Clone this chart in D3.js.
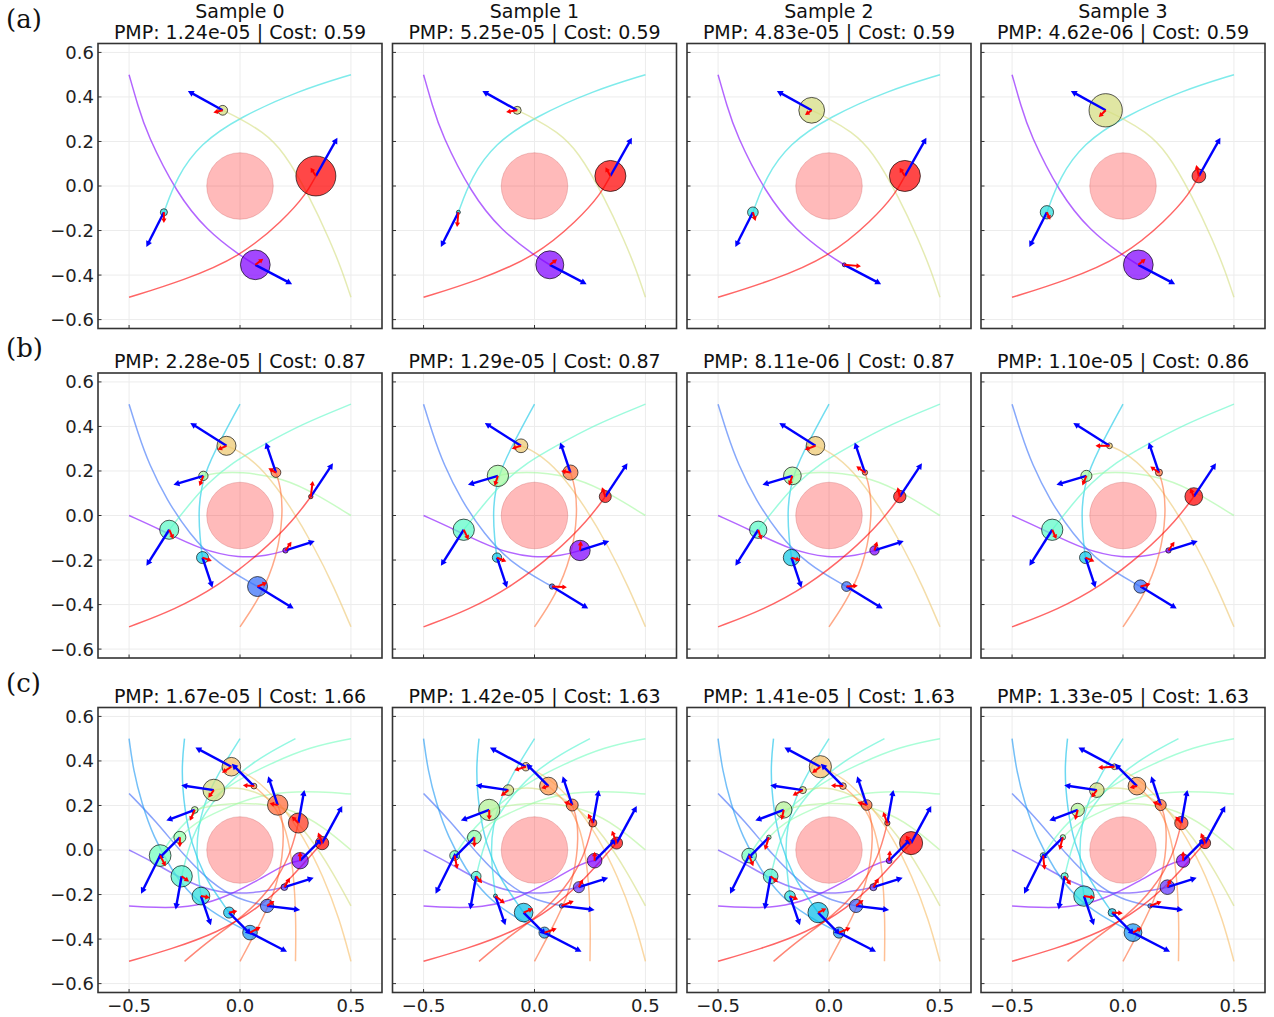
<!DOCTYPE html>
<html>
<head>
<meta charset="utf-8">
<title>PMP samples</title>
<script src="https://cdn.jsdelivr.net/npm/d3@7"></script>
<style>
  body { margin: 0; background: #fff; }
  svg { display: block; font-family: "DejaVu Sans", sans-serif; }
</style>
</head>
<body>
<svg id="chart" width="1274" height="1017"></svg>
<script>
// ---- data (data units) ----
var rowLabels = ["(a)", "(b)", "(c)"];
var sampleNames = ["Sample 0", "Sample 1", "Sample 2", "Sample 3"];
var pmpA = ["1.24e-05", "5.25e-05", "4.83e-05", "4.62e-06"];
var pmpB = ["2.28e-05", "1.29e-05", "8.11e-06", "1.10e-05"];
var pmpC = ["1.67e-05", "1.42e-05", "1.41e-05", "1.33e-05"];
var costA = ["0.59", "0.59", "0.59", "0.59"];
var costB = ["0.87", "0.87", "0.87", "0.86"];
var costC = ["1.66", "1.63", "1.63", "1.63"];
var xTicks = [-0.5, 0, 0.5];
var yTicks = [-0.6, -0.4, -0.2, 0, 0.2, 0.4, 0.6];
var obstacle = {x: 0, y: 0, r: 0.15};

// trajectories: one per agent, the agent sits on the last point
var pathsA = [
  [[-0.5,0.5],[-0.46,0.36],[-0.42,0.235],[-0.285,-0.034],[-0.15,-0.2],[0,-0.312],[0.069,-0.354]],
  [[0.5,0.5],[0.27,0.43],[0,0.31],[-0.18,0.19],[-0.285,0.04],[-0.343,-0.118]],
  [[0.5,-0.5],[0.46,-0.38],[0.405,-0.244],[0.315,-0.05],[0.195,0.16],[0.1,0.245],[0,0.303],[-0.078,0.34]],
  [[-0.5,-0.5],[-0.255,-0.424],[0,-0.319],[0.195,-0.154],[0.3,-0.034],[0.342,0.045]]
];
var pathsB = [
  [[-0.5,0],[-0.357,-0.064],[-0.177,-0.154],[0,-0.192],[0.123,-0.181],[0.205,-0.157]],
  [[-0.5,0.5],[-0.46,0.37],[-0.41,0.23],[-0.33,0.07],[-0.23,-0.08],[-0.1,-0.22],[0.079,-0.319]],
  [[0,0.5],[-0.087,0.34],[-0.162,0.19],[-0.189,0.04],[-0.18,-0.11],[-0.169,-0.189]],
  [[0.5,0.5],[0.273,0.408],[0.093,0.31],[-0.03,0.24],[-0.147,0.145],[-0.237,0.04],[-0.319,-0.064]],
  [[0.5,0],[0.348,0.093],[0.198,0.168],[0,0.198],[-0.117,0.19],[-0.165,0.178]],
  [[0.5,-0.5],[0.423,-0.319],[0.333,-0.139],[0.228,0.04],[0.108,0.205],[0.003,0.288],[-0.061,0.313]],
  [[0,-0.5],[0.093,-0.364],[0.168,-0.184],[0.195,0.01],[0.183,0.13],[0.162,0.193]],
  [[-0.5,-0.5],[-0.297,-0.424],[-0.102,-0.319],[0.093,-0.169],[0.243,-0.019],[0.319,0.085]]
];
var pathsC = [
  [[-0.5,-0.251],[-0.384,-0.259],[-0.235,-0.259],[-0.086,-0.222],[0.063,-0.147],[0.211,-0.058],[0.271,-0.048]],
  [[-0.5,0],[-0.384,-0.058],[-0.235,-0.147],[-0.086,-0.195],[0.063,-0.195],[0.2,-0.167]],
  [[-0.5,0.254],[-0.384,0.135],[-0.25,-0.028],[-0.131,-0.147],[-0.012,-0.222],[0.122,-0.251]],
  [[-0.5,0.5],[-0.481,0.359],[-0.443,0.21],[-0.391,0.061],[-0.31,-0.088],[-0.22,-0.207],[-0.101,-0.296],[0.045,-0.371]],
  [[-0.25,0.5],[-0.265,0.359],[-0.25,0.18],[-0.22,0.031],[-0.161,-0.118],[-0.101,-0.207],[-0.049,-0.281]],
  [[0,0.5],[-0.071,0.388],[-0.146,0.254],[-0.19,0.106],[-0.198,-0.028],[-0.176,-0.207]],
  [[0.25,0.5],[0.122,0.433],[-0.012,0.344],[-0.131,0.21],[-0.22,0.061],[-0.263,-0.118]],
  [[0.5,0.5],[0.315,0.463],[0.137,0.388],[-0.042,0.299],[-0.19,0.18],[-0.295,0.076],[-0.36,-0.025]],
  [[0.5,0.251],[0.36,0.262],[0.211,0.262],[0.063,0.24],[-0.086,0.18],[-0.205,0.121],[-0.271,0.057]],
  [[0.5,0],[0.375,0.106],[0.241,0.18],[0.092,0.21],[-0.042,0.21],[-0.146,0.195],[-0.204,0.18]],
  [[0.5,-0.251],[0.42,-0.103],[0.315,0.061],[0.196,0.195],[0.063,0.269],[-0.042,0.284],[-0.118,0.269]],
  [[0.5,-0.5],[0.449,-0.311],[0.375,-0.118],[0.286,0.061],[0.182,0.21],[0.063,0.329],[-0.039,0.374]],
  [[0.25,-0.5],[0.253,-0.311],[0.241,-0.088],[0.211,0.091],[0.152,0.21],[0.063,0.287]],
  [[0,-0.5],[0.077,-0.356],[0.152,-0.207],[0.196,-0.028],[0.196,0.135],[0.17,0.202]],
  [[-0.25,-0.5],[-0.131,-0.4],[0.018,-0.296],[0.137,-0.177],[0.226,-0.028],[0.263,0.121]],
  [[-0.5,-0.5],[-0.31,-0.445],[-0.101,-0.371],[0.077,-0.266],[0.226,-0.132],[0.315,-0.028],[0.37,0.031]]
];

// blue arrows (same in every sample of a row)
var blueA = [[0.166,-0.087],[-0.079,-0.156],[-0.157,0.087],[0.097,0.172]];
var blueB = [[0.132,0.042],[0.163,-0.099],[0.045,-0.135],[-0.103,-0.162],[-0.135,-0.04],[-0.163,0.103],[-0.046,0.135],[0.1,0.15]];
var blueC = [[0.1,0.1],[0.132,0.042],[0.149,-0.018],[0.167,-0.086],[0.1,-0.1],[0.045,-0.131],[-0.027,-0.149],[-0.086,-0.171],
             [-0.1,-0.1],[-0.128,-0.048],[-0.147,0.022],[-0.162,0.086],[-0.1,0.1],[-0.043,0.129],[0.027,0.149],[0.091,0.167]];

// agent radii per sample
var radiiA = [
  [0.067,0.016,0.022,0.09],
  [0.063,0.009,0.018,0.07],
  [0.009,0.024,0.058,0.07],
  [0.067,0.03,0.075,0.031]
];
var radiiB = [
  [0.012,0.045,0.027,0.043,0.021,0.043,0.022,0.010],
  [0.046,0.012,0.021,0.048,0.048,0.031,0.034,0.027],
  [0.021,0.022,0.037,0.039,0.04,0.042,0.012,0.028],
  [0.012,0.03,0.027,0.048,0.025,0.013,0.016,0.04]
];
var radiiC = [
  [0.037,0.015,0.03,0.033,0.025,0.04,0.048,0.049,0.027,0.015,0.049,0.042,0.013,0.046,0.045,0.03],
  [0.033,0.025,0.01,0.025,0.042,0.009,0.022,0.022,0.031,0.048,0.024,0.019,0.04,0.027,0.018,0.027],
  [0.013,0.016,0.03,0.025,0.046,0.024,0.033,0.033,0.01,0.037,0.016,0.05,0.015,0.024,0.012,0.052],
  [0.03,0.033,0.01,0.04,0.018,0.046,0.016,0.013,0.012,0.03,0.033,0.013,0.04,0.025,0.03,0.025]
];

// red arrows per sample
var redA = [
  [[0.036,0.027],[0,-0.048],[-0.042,-0.01],[-0.024,0.037]],
  [[0.033,0.025],[-0.006,-0.066],[-0.05,-0.008],[-0.022,0.039]],
  [[0.075,-0.006],[0.012,-0.039],[-0.03,-0.021],[-0.024,0.037]],
  [[0.033,0.027],[0.015,-0.034],[-0.031,-0.03],[-0.012,0.049]]
];
var redB = [
  [[0.027,0.039],[0.043,0.018],[0.042,-0.015],[0.019,-0.042],[-0.018,-0.045],[-0.04,-0.018],[-0.034,0.019],[0.009,0.07]],
  [[0.004,0.042],[0.067,-0.003],[0.042,-0.018],[0.022,-0.045],[-0.015,-0.045],[-0.042,-0.013],[-0.042,0.007],[-0.015,0.042]],
  [[0.012,0.04],[0.051,0.004],[0.04,-0.013],[0.015,-0.045],[-0.015,-0.043],[-0.048,-0.018],[-0.039,0.028],[-0.01,0.042]],
  [[0.027,0.039],[0.045,0.012],[0.04,-0.018],[0.019,-0.042],[-0.018,-0.043],[-0.063,0],[-0.039,0.027],[-0.016,0.037]]
];
var redC = [
  [[0,0.04],[0.025,0.042],[0.033,0.022],[0.048,0.025],[0.037,0.007],[0.04,-0.007],[0.033,-0.024],[0.025,-0.048],
   [0,-0.045],[-0.022,-0.049],[-0.025,-0.034],[-0.042,-0.027],[-0.05,0.004],[-0.037,0.007],[-0.03,0.03],[-0.018,0.048]],
  [[0,0.04],[0.018,0.036],[0.055,0.022],[0.055,0.018],[0.042,0.018],[0.042,-0.033],[0.027,-0.031],[0.012,-0.06],
   [0,-0.045],[0,-0.045],[-0.034,-0.027],[-0.052,-0.016],[-0.033,-0.01],[-0.037,0.015],[-0.022,0.042],[-0.021,0.056]],
  [[0.004,0.046],[0.024,0.04],[0.033,0.027],[0.052,0.022],[0.037,0.018],[0.037,-0.015],[0.033,-0.027],[0.019,-0.048],
   [-0.018,-0.057],[-0.01,-0.045],[-0.046,-0.024],[-0.037,-0.028],[-0.054,0.003],[-0.042,0.013],[-0.019,0.05],[-0.024,0.034]],
  [[0,0.042],[0.015,0.036],[0.052,0.02],[0.04,0.022],[0.048,-0.003],[0.049,-0.007],[0.028,-0.039],[0.007,-0.064],
   [-0.015,-0.057],[-0.012,-0.045],[-0.025,-0.033],[-0.073,-0.004],[-0.033,-0.007],[-0.036,0.015],[-0.027,0.03],[-0.019,0.045]]
];

// ---- layout ----
var colLeft = [98, 392.5, 687, 981];
var rowTop = [43.5, 373, 707.5];
var W = 284, H = 285;

var rows = [
  {paths: pathsA, blue: blueA, radii: radiiA, red: redA, pmp: pmpA, cost: costA},
  {paths: pathsB, blue: blueB, radii: radiiB, red: redB, pmp: pmpB, cost: costB},
  {paths: pathsC, blue: blueC, radii: radiiC, red: redC, pmp: pmpC, cost: costC}
];

var x = d3.scaleLinear().domain([-0.64, 0.64]).range([0, W]);
var y = d3.scaleLinear().domain([-0.64, 0.64]).range([H, 0]);
var fmt = function(v) { return (v < 0 ? "\u2212" : "") + Math.abs(v).toFixed(1); };

// matplotlib "rainbow" colormap
function rainbow(t) {
  var r = Math.min(1, Math.abs(2 * t - 0.5));
  var g = Math.sin(Math.PI * t);
  var b = Math.cos(Math.PI * t / 2);
  return d3.rgb(r * 255, g * 255, Math.max(0, b) * 255).formatHex();
}

var line = d3.line()
    .x(function(d) { return x(d[0]); })
    .y(function(d) { return y(d[1]); })
    .curve(d3.curveBasis);

function arrow(g, p, v, color, lw, hl, hw) {
  var x0 = x(p[0]), y0 = y(p[1]);
  var x1 = x(p[0] + v[0]), y1 = y(p[1] + v[1]);
  var dx = x1 - x0, dy = y1 - y0, len = Math.sqrt(dx * dx + dy * dy);
  if (len < 0.5) return;
  var ux = dx / len, uy = dy / len;
  var bx = x1 - ux * hl, by = y1 - uy * hl;
  g.append("line")
      .attr("x1", x0).attr("y1", y0)
      .attr("x2", bx + ux * 1).attr("y2", by + uy * 1)
      .attr("stroke", color).attr("stroke-width", lw);
  g.append("path")
      .attr("d", "M" + x1 + "," + y1 +
                 "L" + (bx - uy * hw) + "," + (by + ux * hw) +
                 "L" + (bx + uy * hw) + "," + (by - ux * hw) + "Z")
      .attr("fill", color);
}

var svg = d3.select("#chart");

rows.forEach(function(row, ri) {
  var n = row.paths.length;
  var colors = row.paths.map(function(d, i) { return rainbow(i / (n - 1)); });

  svg.append("text")
      .attr("x", 6).attr("y", rowTop[ri] - 16)
      .attr("font-family", "DejaVu Serif, serif")
      .attr("font-size", 26)
      .attr("fill", "#111")
      .text(rowLabels[ri]);

  for (var ci = 0; ci < 4; ci++) {
    var g = svg.append("g").attr("transform", "translate(" + colLeft[ci] + "," + rowTop[ri] + ")");
    var clipId = "clip" + ri + ci;
    g.append("clipPath").attr("id", clipId)
      .append("rect").attr("width", W).attr("height", H);
    var inner = g.append("g").attr("clip-path", "url(#" + clipId + ")");

    // grid
    inner.selectAll(".gx").data(xTicks).enter().append("line")
        .attr("x1", function(d) { return x(d); }).attr("x2", function(d) { return x(d); })
        .attr("y1", 0).attr("y2", H)
        .attr("stroke", "#ececec").attr("stroke-width", 1);
    inner.selectAll(".gy").data(yTicks).enter().append("line")
        .attr("y1", function(d) { return y(d); }).attr("y2", function(d) { return y(d); })
        .attr("x1", 0).attr("x2", W)
        .attr("stroke", "#ececec").attr("stroke-width", 1);

    // obstacle
    inner.append("circle")
        .attr("cx", x(obstacle.x)).attr("cy", y(obstacle.y))
        .attr("r", x(obstacle.r) - x(0))
        .attr("fill", "rgba(255,0,0,0.27)")
        .attr("stroke", "rgba(190,60,60,0.25)").attr("stroke-width", 1);

    // trajectories
    inner.selectAll(".traj").data(row.paths).enter().append("path")
        .attr("d", line)
        .attr("fill", "none")
        .attr("stroke", function(d, i) { return colors[i]; })
        .attr("stroke-opacity", 0.6)
        .attr("stroke-width", 1.5);

    // agents
    var radii = row.radii[ci];
    inner.selectAll(".agent").data(row.paths).enter().append("circle")
        .attr("cx", function(d) { return x(d[d.length - 1][0]); })
        .attr("cy", function(d) { return y(d[d.length - 1][1]); })
        .attr("r", function(d, i) { return x(radii[i]) - x(0); })
        .attr("fill", function(d, i) { return colors[i]; })
        .attr("fill-opacity", 0.72)
        .attr("stroke", "rgba(0,0,0,0.65)").attr("stroke-width", 1);

    // arrows
    var reds = row.red[ci];
    row.paths.forEach(function(d, i) {
      var p = d[d.length - 1];
      arrow(inner, p, row.blue[i], "#0000ff", 2.4, 6, 3.2);
    });
    row.paths.forEach(function(d, i) {
      var p = d[d.length - 1];
      arrow(inner, p, reds[i], "#ff0000", 2, 4.5, 2.6);
    });

    // ticks (inward)
    g.selectAll(".tx").data(xTicks).enter().append("line")
        .attr("x1", function(d) { return x(d); }).attr("x2", function(d) { return x(d); })
        .attr("y1", H).attr("y2", H - 3.5)
        .attr("stroke", "#333").attr("stroke-width", 1);
    g.selectAll(".ty").data(yTicks).enter().append("line")
        .attr("y1", function(d) { return y(d); }).attr("y2", function(d) { return y(d); })
        .attr("x1", 0).attr("x2", 3.5)
        .attr("stroke", "#333").attr("stroke-width", 1);

    // frame
    g.append("rect").attr("width", W).attr("height", H)
        .attr("fill", "none").attr("stroke", "#333").attr("stroke-width", 1.6);

    if (ci === 0) {
      g.selectAll(".yl").data(yTicks).enter().append("text")
          .attr("x", -4).attr("y", function(d) { return y(d); })
          .attr("dy", "0.36em")
          .attr("text-anchor", "end")
          .attr("font-size", 18).attr("fill", "#222")
          .text(fmt);
    }
    if (ri === 2) {
      g.selectAll(".xl").data(xTicks).enter().append("text")
          .attr("x", function(d) { return x(d); }).attr("y", H + 19)
          .attr("text-anchor", "middle")
          .attr("font-size", 18).attr("fill", "#222")
          .text(fmt);
    }

    // titles
    g.append("text")
        .attr("x", W / 2).attr("y", -5)
        .attr("text-anchor", "middle")
        .attr("font-size", 19).attr("fill", "#111")
        .text("PMP: " + row.pmp[ci] + " | Cost: " + row.cost[ci]);
    if (ri === 0) {
      g.append("text")
          .attr("x", W / 2).attr("y", -26)
          .attr("text-anchor", "middle")
          .attr("font-size", 19).attr("fill", "#111")
          .text(sampleNames[ci]);
    }
  }
});
</script>
</body>
</html>
